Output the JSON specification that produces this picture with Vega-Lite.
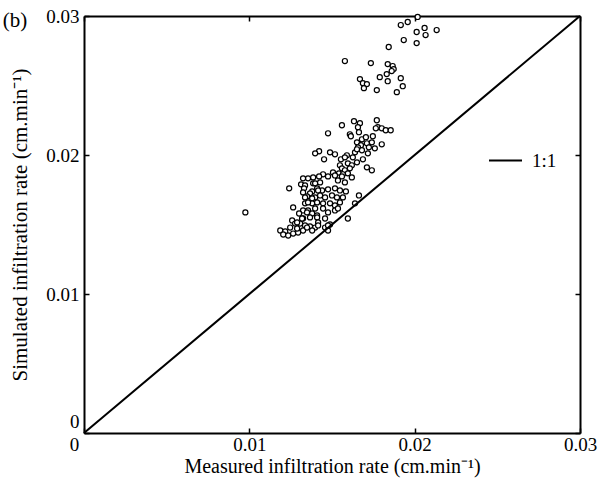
{
  "$schema": "https://vega.github.io/schema/vega-lite/v6.json",
  "autosize": {"type": "fit", "contains": "padding"},
  "width": 607,
  "height": 482,
  "padding": {"left": 2, "top": 7, "right": 10, "bottom": 6},
  "background": "white",
  "title": {"text": "(b)", "anchor": "start", "frame": "bounds", "orient": "top", "fontSize": 21, "font": "Liberation Serif", "fontWeight": "normal", "color": "black", "offset": -24, "dx": -7},
  "config": {
    "font": "Liberation Serif",
    "view": {"stroke": null},
    "axis": {
      "grid": false, "domainColor": "black", "domainWidth": 2, "tickColor": "black", "tickWidth": 1.5,
      "ticks": false, "labelPadding": 4, "labelColor": "black", "labelFontSize": 19, "labelFont": "Liberation Serif",
      "labelFlush": false, "labelOverlap": false,
      "titleFontSize": 21, "titleFontWeight": "normal", "titleColor": "black", "titleFont": "Liberation Serif"
    }
  },
  "datasets": {
    "diag": [
      {"measured": 0, "simulated": 0, "series": "1:1"},
      {"measured": 0.03, "simulated": 0.03, "series": "1:1"}
    ]
  },
  "resolve": {"axis": {"x": "independent", "y": "independent"}},
  "layer": [
    {
      "data": {"values": [
        {"measured":0.02018,"simulated":0.02993},{"measured":0.01916,"simulated":0.02935},{"measured":0.01958,"simulated":0.02957},{"measured":0.02012,"simulated":0.02885},{"measured":0.02060,"simulated":0.02914},{"measured":0.02066,"simulated":0.02863},{"measured":0.02133,"simulated":0.02899},{"measured":0.01934,"simulated":0.02827},{"measured":0.02012,"simulated":0.02805},{"measured":0.01843,"simulated":0.02777},
        {"measured":0.01578,"simulated":0.02676},{"measured":0.01735,"simulated":0.02661},{"measured":0.01837,"simulated":0.02654},{"measured":0.01867,"simulated":0.02640},{"measured":0.01873,"simulated":0.02618},{"measured":0.01861,"simulated":0.02604},{"measured":0.01831,"simulated":0.02582},{"measured":0.01789,"simulated":0.02560},{"measured":0.01837,"simulated":0.02531},{"measured":0.01916,"simulated":0.02553},
        {"measured":0.01928,"simulated":0.02495},{"measured":0.01669,"simulated":0.02546},{"measured":0.01687,"simulated":0.02517},{"measured":0.01711,"simulated":0.02510},{"measured":0.01693,"simulated":0.02481},{"measured":0.01771,"simulated":0.02467},{"measured":0.01892,"simulated":0.02452},{"measured":0.01633,"simulated":0.02243},{"measured":0.01669,"simulated":0.02229},{"measured":0.01771,"simulated":0.02250},
        {"measured":0.01560,"simulated":0.02214},{"measured":0.01476,"simulated":0.02156},{"measured":0.01657,"simulated":0.02200},{"measured":0.01777,"simulated":0.02200},{"measured":0.01801,"simulated":0.02192},{"measured":0.01825,"simulated":0.02178},{"measured":0.01855,"simulated":0.02178},{"measured":0.01765,"simulated":0.02192},{"measured":0.01608,"simulated":0.02149},{"measured":0.01614,"simulated":0.02135},
        {"measured":0.01681,"simulated":0.02113},{"measured":0.01705,"simulated":0.02128},{"measured":0.01747,"simulated":0.02135},{"measured":0.01651,"simulated":0.02091},{"measured":0.01675,"simulated":0.02070},{"measured":0.01711,"simulated":0.02084},{"measured":0.01741,"simulated":0.02091},{"measured":0.01801,"simulated":0.02077},{"measured":0.01759,"simulated":0.02048},{"measured":0.01422,"simulated":0.02027},
        {"measured":0.01398,"simulated":0.02012},{"measured":0.01488,"simulated":0.02019},{"measured":0.01518,"simulated":0.02005},{"measured":0.01590,"simulated":0.01998},{"measured":0.01639,"simulated":0.02019},{"measured":0.01657,"simulated":0.02055},{"measured":0.01717,"simulated":0.02012},{"measured":0.01626,"simulated":0.01983},{"measured":0.01554,"simulated":0.01969},{"measured":0.01452,"simulated":0.01969},
        {"measured":0.01687,"simulated":0.01969},{"measured":0.01723,"simulated":0.02055},{"measured":0.01681,"simulated":0.02034},{"measured":0.01651,"simulated":0.02041},{"measured":0.01663,"simulated":0.02164},{"measured":0.01578,"simulated":0.01983},{"measured":0.01651,"simulated":0.01947},{"measured":0.01596,"simulated":0.01940},{"measured":0.01620,"simulated":0.01926},{"measured":0.01548,"simulated":0.01926},
        {"measured":0.01560,"simulated":0.01904},{"measured":0.01578,"simulated":0.01890},{"measured":0.01608,"simulated":0.01904},{"measured":0.01711,"simulated":0.01911},{"measured":0.01741,"simulated":0.01890},{"measured":0.01506,"simulated":0.01875},{"measured":0.01542,"simulated":0.01868},{"measured":0.01566,"simulated":0.01861},{"measured":0.01596,"simulated":0.01868},{"measured":0.01446,"simulated":0.01861},
        {"measured":0.01476,"simulated":0.01846},{"measured":0.01386,"simulated":0.01839},{"measured":0.01355,"simulated":0.01832},{"measured":0.01325,"simulated":0.01832},{"measured":0.01620,"simulated":0.01839},{"measured":0.01536,"simulated":0.01839},{"measured":0.01518,"simulated":0.01853},{"measured":0.01560,"simulated":0.01846},{"measured":0.01422,"simulated":0.01846},{"measured":0.01241,"simulated":0.01760},
        {"measured":0.01313,"simulated":0.01789},{"measured":0.01337,"simulated":0.01781},{"measured":0.01386,"simulated":0.01796},{"measured":0.01398,"simulated":0.01796},{"measured":0.01428,"simulated":0.01803},{"measured":0.01536,"simulated":0.01817},{"measured":0.01578,"simulated":0.01803},{"measured":0.01331,"simulated":0.01760},{"measured":0.01380,"simulated":0.01738},{"measured":0.01410,"simulated":0.01760},
        {"measured":0.01440,"simulated":0.01745},{"measured":0.01476,"simulated":0.01753},{"measured":0.01518,"simulated":0.01760},{"measured":0.01548,"simulated":0.01745},{"measured":0.01584,"simulated":0.01738},{"measured":0.01325,"simulated":0.01731},{"measured":0.01367,"simulated":0.01724},{"measured":0.01416,"simulated":0.01745},{"measured":0.01349,"simulated":0.01702},{"measured":0.01398,"simulated":0.01695},
        {"measured":0.01428,"simulated":0.01709},{"measured":0.01458,"simulated":0.01695},{"measured":0.01500,"simulated":0.01709},{"measured":0.01530,"simulated":0.01695},{"measured":0.01566,"simulated":0.01695},{"measured":0.01663,"simulated":0.01709},{"measured":0.01337,"simulated":0.01695},{"measured":0.01380,"simulated":0.01688},{"measured":0.01265,"simulated":0.01623},{"measured":0.01337,"simulated":0.01652},
        {"measured":0.01380,"simulated":0.01652},{"measured":0.01410,"simulated":0.01659},{"measured":0.01446,"simulated":0.01652},{"measured":0.01488,"simulated":0.01652},{"measured":0.01518,"simulated":0.01637},{"measured":0.01548,"simulated":0.01659},{"measured":0.01639,"simulated":0.01652},{"measured":0.01355,"simulated":0.01659},{"measured":0.01325,"simulated":0.01601},{"measured":0.01355,"simulated":0.01601},
        {"measured":0.01398,"simulated":0.01615},{"measured":0.01446,"simulated":0.01615},{"measured":0.01476,"simulated":0.01587},{"measured":0.01518,"simulated":0.01601},{"measured":0.01536,"simulated":0.01615},{"measured":0.00976,"simulated":0.01587},{"measured":0.01301,"simulated":0.01579},{"measured":0.01349,"simulated":0.01587},{"measured":0.01380,"simulated":0.01579},{"measured":0.01410,"simulated":0.01565},
        {"measured":0.01325,"simulated":0.01543},{"measured":0.01367,"simulated":0.01551},{"measured":0.01410,"simulated":0.01551},{"measured":0.01458,"simulated":0.01543},{"measured":0.01596,"simulated":0.01543},{"measured":0.01416,"simulated":0.01515},{"measured":0.01259,"simulated":0.01529},{"measured":0.01277,"simulated":0.01507},{"measured":0.01307,"simulated":0.01507},{"measured":0.01337,"simulated":0.01493},
        {"measured":0.01367,"simulated":0.01486},{"measured":0.01398,"simulated":0.01478},{"measured":0.01416,"simulated":0.01493},{"measured":0.01458,"simulated":0.01478},{"measured":0.01488,"simulated":0.01500},{"measured":0.01476,"simulated":0.01457},{"measured":0.01187,"simulated":0.01457},{"measured":0.01217,"simulated":0.01450},{"measured":0.01205,"simulated":0.01428},{"measured":0.01235,"simulated":0.01421},
        {"measured":0.01265,"simulated":0.01435},{"measured":0.01295,"simulated":0.01442},{"measured":0.01325,"simulated":0.01457},{"measured":0.01349,"simulated":0.01478},{"measured":0.01380,"simulated":0.01457},{"measured":0.01289,"simulated":0.01471},{"measured":0.01247,"simulated":0.01478},{"measured":0.01289,"simulated":0.01515},{"measured":0.01319,"simulated":0.01543},{"measured":0.01476,"simulated":0.01493}
      ]},
      "mark": {"type": "point", "shape": "circle", "size": 26, "stroke": "black", "strokeWidth": 1.2, "fill": "white", "filled": false, "opacity": 1},
      "encoding": {
        "x": {"field": "measured", "type": "quantitative", "scale": {"domain": [0, 0.03], "nice": false, "zero": false},
          "axis": {"orient": "bottom", "values": [0, 0.01, 0.02, 0.03], "format": ".2~f", "title": "Measured infiltration rate (cm.min⁻¹)", "titlePadding": 2, "titleFontSize": 20, "labelPadding": 2,
            "labelOffset": {"condition": {"test": "datum.value == 0", "value": -10}, "value": 0}}},
        "y": {"field": "simulated", "type": "quantitative", "scale": {"domain": [0, 0.03], "nice": false, "zero": false},
          "axis": {"orient": "left", "values": [0, 0.01, 0.02, 0.03], "format": ".2~f", "title": "Simulated infiltration rate (cm.min⁻¹)", "titlePadding": 15, "labelPadding": 5,
            "labelOffset": {"condition": {"test": "datum.value == 0", "value": -12}, "value": 0}}}
      }
    },
    {
      "data": {"name": "diag"},
      "mark": {"type": "line", "strokeWidth": 2, "color": "black"},
      "encoding": {
        "x": {"field": "measured", "type": "quantitative", "scale": {"domain": [0, 0.03], "nice": false, "zero": false},
          "axis": {"orient": "top", "values": [0, 0.01, 0.02, 0.03], "labels": false, "title": null}},
        "y": {"field": "simulated", "type": "quantitative", "scale": {"domain": [0, 0.03], "nice": false, "zero": false},
          "axis": {"orient": "right", "values": [0, 0.01, 0.02, 0.03], "labels": false, "title": null}},
        "color": {"field": "series", "type": "nominal", "scale": {"range": ["black"]},
          "legend": {"title": null, "orient": "none", "legendX": 404, "legendY": 127, "symbolType": "stroke", "symbolSize": 1089, "symbolStrokeWidth": 2, "symbolStrokeColor": "black", "labelFontSize": 19, "labelFont": "Liberation Serif", "labelColor": "black", "labelOffset": 9}}
      }
    },
    {
      "data": {"name": "diag"},
      "mark": {"type": "point", "opacity": 0},
      "encoding": {
        "x": {"field": "measured", "type": "quantitative", "scale": {"domain": [0, 0.03], "nice": false, "zero": false},
          "axis": {"orient": "bottom", "offset": -5, "values": [0, 0.01, 0.02, 0.03], "labels": false, "title": null, "domain": false, "ticks": true, "tickSize": 5}},
        "y": {"field": "simulated", "type": "quantitative", "scale": {"domain": [0, 0.03], "nice": false, "zero": false},
          "axis": {"orient": "left", "offset": -5, "values": [0, 0.01, 0.02, 0.03], "labels": false, "title": null, "domain": false, "ticks": true, "tickSize": 5}}
      }
    },
    {
      "data": {"name": "diag"},
      "mark": {"type": "point", "opacity": 0},
      "encoding": {
        "x": {"field": "measured", "type": "quantitative", "scale": {"domain": [0, 0.03], "nice": false, "zero": false},
          "axis": {"orient": "top", "offset": -5, "values": [0, 0.01, 0.02, 0.03], "labels": false, "title": null, "domain": false, "ticks": true, "tickSize": 5}},
        "y": {"field": "simulated", "type": "quantitative", "scale": {"domain": [0, 0.03], "nice": false, "zero": false},
          "axis": {"orient": "right", "offset": -5, "values": [0, 0.01, 0.02, 0.03], "labels": false, "title": null, "domain": false, "ticks": true, "tickSize": 5}}
      }
    }
  ]
}
